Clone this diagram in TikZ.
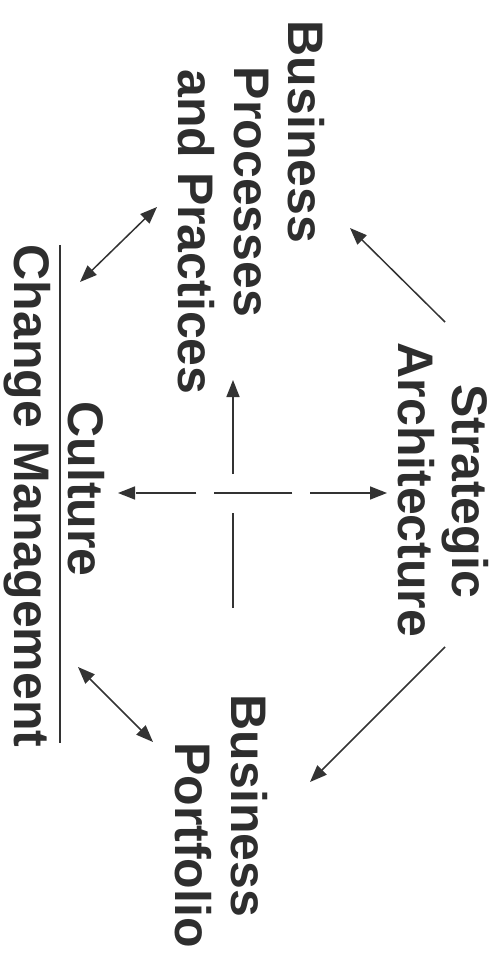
\documentclass[tikz,border=0pt]{standalone}
\usepackage{fontspec}
\setmainfont{Liberation Sans}
\usetikzlibrary{arrows.meta}

\begin{document}
\begin{tikzpicture}[x=1pt,y=-1pt,
  lbl/.style={rotate=-90,anchor=base,inner sep=0,text=black!82,font=\fontsize{50}{56}\selectfont\bfseries},
  conn/.style={black!80,line width=1.5pt,arrows={-Triangle[length=17pt,width=13pt]}}]

\useasboundingbox (0,0) rectangle (501,957);

\node [lbl] (procA) at (288,132) {Business};
\node [lbl] (procB) at (234,192) {Processes};
\node [lbl] (procC) at (178,232) {and Practices};

\node [lbl] (stratA) at (452,491) {Strategic};
\node [lbl] (stratB) at (398,490) {Architecture};

\node [lbl] (cult) at (68,489) {Culture};
\node [lbl] (change) at (14,496) {Change Management};

\node [lbl] (portA) at (231,806) {Business};
\node [lbl] (portB) at (175,845) {Portfolio};

\coordinate (ruleT) at (60,245);
\coordinate (ruleB) at (60,743);
\draw [black!80,line width=1.2pt] (ruleT) -- (ruleB);

\coordinate (sa1) at (445,322);
\coordinate (pr1) at (350,228);
\coordinate (sa2) at (445,647);
\coordinate (po1) at (310,782);
\coordinate (pr2) at (157,207);
\coordinate (cu1) at (80,282);
\coordinate (cu2) at (78,667);
\coordinate (po2) at (153,742);

\draw [conn] (sa1) -- (pr1);
\draw [conn] (sa2) -- (po1);
\draw [conn,arrows={Triangle[length=17pt,width=13pt]-Triangle[length=17pt,width=13pt]}] (pr2) -- (cu1);
\draw [conn,arrows={Triangle[length=17pt,width=13pt]-Triangle[length=17pt,width=13pt]}] (cu2) -- (po2);

% the cross in the middle
\coordinate (hR) at (387,493);
\coordinate (hL) at (118,493);
\coordinate (vB) at (233,608);
\coordinate (vT) at (233,380);

\draw [conn,arrows={Triangle[length=17pt,width=13pt]-Triangle[length=17pt,width=13pt]},dash pattern=on 60pt off 18pt on 78pt off 18pt] (hR) -- (hL);
\draw [conn,dash pattern=on 95pt off 39pt on 200pt] (vB) -- (vT);

\end{tikzpicture}
\end{document}
